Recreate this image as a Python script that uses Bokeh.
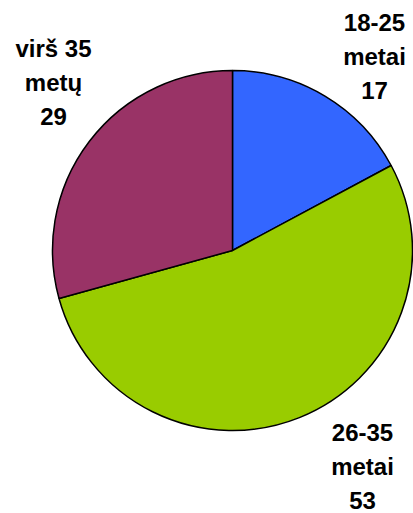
import math
from bokeh.plotting import figure
from bokeh.models import Range1d
from bokeh.core.properties import value
from bokeh.embed import file_html
from bokeh.resources import INLINE

# Data
categories = ["18-25 metai", "26-35 metai", "virš 35 metų"]
values = [17, 53, 29]
colors = ["#3366FF", "#99CC00", "#993366"]

W, H = 413, 513
p = figure(width=W, height=H, output_backend="svg", toolbar_location=None,
           x_range=Range1d(0, W), y_range=Range1d(0, H), min_border=0)
p.axis.visible = False
p.grid.visible = False
p.outline_line_color = None
p.background_fill_color = "white"
p.border_fill_color = "white"

cx, cy, r = 232, 263, 180
total = sum(values)
start = math.pi / 2
starts, ends = [], []
for v in values:
    a = v / total * 2 * math.pi
    starts.append(start)
    ends.append(start - a)
    start -= a

p.wedge(x=[cx] * 3, y=[cy] * 3, radius=r, start_angle=starts, end_angle=ends,
        direction="clock", fill_color=colors, line_color="black", line_width=1.5)

# label anchors (middle line), layout only
anchors = [(374, 457), (362, 47), (53, 431)]
spacing = 34
xs, ys, texts = [], [], []
for cat, v, (ax, ay) in zip(categories, values, anchors):
    parts = cat.rsplit(" ", 1)
    lines = [parts[0], parts[1], str(v)]
    for i, t in enumerate(lines):
        xs.append(ax)
        ys.append(ay + spacing - i * spacing)
        texts.append(t)

p.text(x=xs, y=ys, text=texts, text_font=value("Liberation Sans"),
       text_font_style="bold", text_font_size="24px", text_align="center",
       text_baseline="middle", text_color="black")

open("out.html", "w").write(file_html(p, INLINE))
